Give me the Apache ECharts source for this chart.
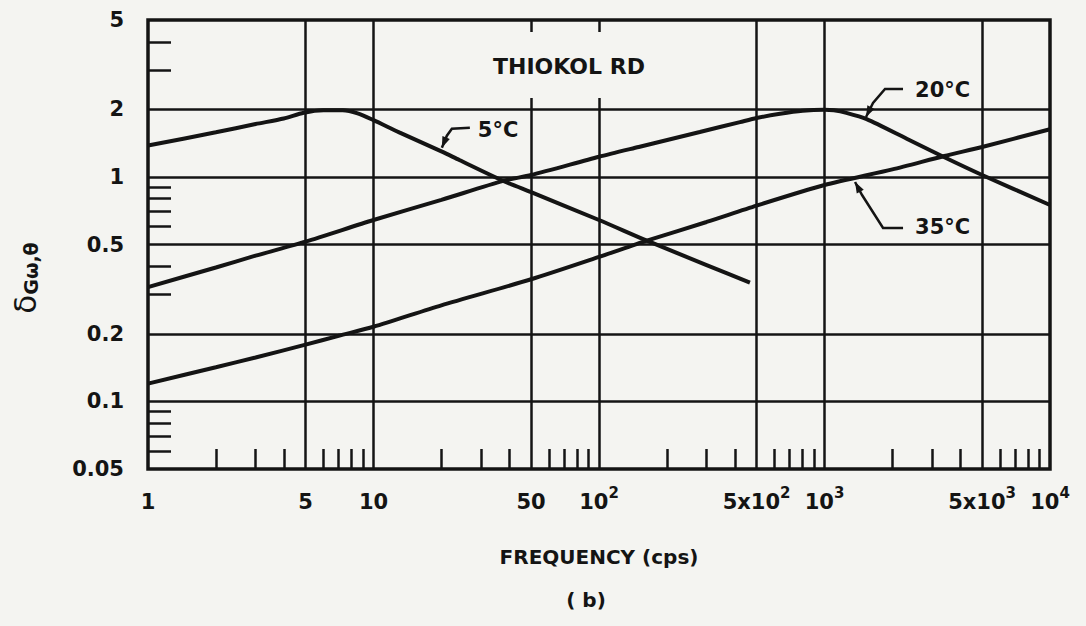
<!DOCTYPE html>
<html><head><meta charset="utf-8">
<script src="https://cdn.jsdelivr.net/npm/echarts@6/dist/echarts.min.js"></script>
<style>html,body{margin:0;padding:0;background:#f4f4f1}#c{width:1086px;height:626px}</style>
</head><body><div id="c"></div>
<script>
// ---- data ----
const freq5 = [1, 2, 3, 4, 4.9, 6, 7.3, 8.5, 10, 13, 20, 24, 37.6, 50, 100, 163, 300, 467];
const val5  = [1.38, 1.58, 1.72, 1.82, 1.93, 1.98, 1.98, 1.92, 1.79, 1.58, 1.30, 1.19, 0.96, 0.855, 0.643, 0.52, 0.405, 0.338];
const freq20 = [1, 2, 3, 5, 10, 20, 37.6, 50, 100, 150, 280, 422, 500, 635, 800, 1000, 1100, 1250, 1538, 2315, 3365, 5000, 10000];
const val20  = [0.323, 0.395, 0.446, 0.515, 0.643, 0.79, 0.96, 1.02, 1.23, 1.36, 1.585, 1.755, 1.83, 1.91, 1.97, 1.99, 1.98, 1.93, 1.81, 1.48, 1.23, 1.02, 0.75];
const freq35 = [1, 2, 3, 5, 7, 10, 20, 50, 100, 163, 300, 500, 1000, 2000, 3400, 5000, 10000];
const val35  = [0.12, 0.142, 0.157, 0.179, 0.196, 0.215, 0.268, 0.35, 0.44, 0.52, 0.63, 0.745, 0.92, 1.08, 1.24, 1.36, 1.63];

const xTickValues = [1, 5, 10, 50, 100, 500, 1000, 5000, 10000];
const xTickLabels = ['1', '5', '10', '50', '10^2', '5x10^2', '10^3', '5x10^3', '10^4'];
const xGridValues = [5, 10, 50, 100, 500, 1000, 5000];
const xMinorValues = [2,3,4,6,7,8,9,20,30,40,60,70,80,90,200,300,400,600,700,800,900,2000,3000,4000,6000,7000,8000,9000];
const yTickValues = [0.05, 0.1, 0.2, 0.5, 1, 2, 5];
const yTickLabels = ['0.05', '0.1', '0.2', '0.5', '1', '2', '5'];
const yGridValues = [0.1, 0.2, 0.5, 1, 2];
const yMinorValues = [0.06, 0.07, 0.08, 0.09, 0.3, 0.4, 0.6, 0.7, 0.8, 0.9, 3, 4];

const annoLabels = ['5°C', '20°C', '35°C'];
const annoFreq = [20.1, 1528, 1366];
const annoValue = [1.35, 1.85, 0.949];

// ---- styling ----
const INK = '#141414';
const BG = '#f4f4f1';
const FONT = '"DejaVu Sans", sans-serif';
const annoPaths = [
  [[0,0],[5,-12],[10,-19],[28,-20]],
  [[0,0],[7,-14],[19,-28],[37,-28]],
  [[0,0],[7,13],[28,46],[48,46]]
];
const annoTextOffset = [[36,-18],[49,-27],[60,45]];

function findIdx(vals, v) {
  for (let i = 0; i < vals.length; i++) if (Math.abs(vals[i] - v) / vals[i] < 1e-6) return i;
  return -1;
}
function xFmt(v) {
  const i = findIdx(xTickValues, v);
  if (i < 0) return '';
  const s = xTickLabels[i];
  const k = s.indexOf('^');
  if (k < 0) return '{b|' + s + '}';
  return '{b|' + s.slice(0, k) + '}{p|' + s.slice(k + 1) + '}';
}
function yFmt(v) {
  const i = findIdx(yTickValues, v);
  return i < 0 ? '' : yTickLabels[i];
}
const pairs = (xs, ys) => xs.map((x, i) => [x, ys[i]]);

const chart = echarts.init(document.getElementById('c'), null, {renderer: 'svg'});
const lineStyle = {color: INK, width: 4};
chart.setOption({
  backgroundColor: BG,
  animation: false,
  title: {
    text: 'THIOKOL RD', left: 481, top: 32, padding: [23, 12, 21, 12],
    backgroundColor: BG,
    textStyle: {fontFamily: FONT, fontWeight: 'bold', fontSize: 22, color: INK}
  },
  grid: {left: 148, top: 20, right: 36, bottom: 157, show: true, borderColor: INK, borderWidth: 3.5,
         backgroundColor: 'transparent', outerBoundsMode: 'none', containLabel: false},
  xAxis: [
    {
      type: 'log', logBase: 10, min: 1, max: 10000, position: 'bottom',
      axisLine: {show: false},
      axisTick: {show: false, customValues: xGridValues},
      splitLine: {show: true, lineStyle: {color: INK, width: 2.5}},
      axisLabel: {
        customValues: xTickValues, margin: 16, formatter: xFmt, color: INK,
        rich: {
          b: {fontFamily: FONT, fontWeight: 'bold', fontSize: 21, color: INK, lineHeight: 27, verticalAlign: 'bottom'},
          p: {fontFamily: FONT, fontWeight: 'bold', fontSize: 15, color: INK, lineHeight: 15, verticalAlign: 'top'}
        }
      },
      name: 'FREQUENCY (cps)', nameLocation: 'middle', nameGap: 78,
      nameTextStyle: {fontFamily: FONT, fontWeight: 'bold', fontSize: 20, color: INK}
    },
    {
      type: 'log', logBase: 10, min: 1, max: 10000, position: 'bottom',
      axisLine: {show: false},
      axisTick: {show: true, inside: true, length: 20, customValues: xMinorValues, lineStyle: {color: INK, width: 2.5}},
      splitLine: {show: false},
      axisLabel: {show: false}
    }
  ],
  yAxis: [
    {
      type: 'log', logBase: 10, min: 0.05, max: 5, position: 'left',
      axisLine: {show: false},
      axisTick: {show: false, customValues: yGridValues},
      splitLine: {show: true, lineStyle: {color: INK, width: 2.5}},
      axisLabel: {customValues: yTickValues, margin: 24, formatter: yFmt, color: INK,
                  fontFamily: FONT, fontWeight: 'bold', fontSize: 21}
    },
    {
      type: 'log', logBase: 10, min: 0.05, max: 5, position: 'left',
      axisLine: {show: false},
      axisTick: {show: true, inside: true, length: 23, customValues: yMinorValues, lineStyle: {color: INK, width: 2.5}},
      splitLine: {show: false},
      axisLabel: {show: false}
    }
  ],
  graphic: [
    {
      type: 'text', x: 24, y: 278, rotation: Math.PI / 2, z: 10,
      style: {
        text: '{d|δ}{s|Gω,θ}', align: 'center', verticalAlign: 'middle',
        rich: {
          d: {fontFamily: FONT, fontSize: 31, fill: INK, color: INK, verticalAlign: 'bottom', lineHeight: 32},
          s: {fontFamily: FONT, fontSize: 19, fontWeight: 'bold', fill: INK, color: INK, verticalAlign: 'bottom', lineHeight: 19}
        }
      }
    },
    {
      type: 'text', x: 586, y: 600, z: 10,
      style: {text: '( b)', align: 'center', verticalAlign: 'middle', font: 'bold 20px ' + FONT, fill: INK}
    }
  ],
  series: [
    {type: 'line', name: '5°C', data: pairs(freq5, val5), showSymbol: false, smooth: 0.25, lineStyle: lineStyle, z: 3},
    {type: 'line', name: '20°C', data: pairs(freq20, val20), showSymbol: false, smooth: 0.25, lineStyle: lineStyle, z: 3},
    {type: 'line', name: '35°C', data: pairs(freq35, val35), showSymbol: false, smooth: 0.25, lineStyle: lineStyle, z: 3},
    {
      type: 'custom', coordinateSystem: 'cartesian2d', clip: false, z: 4,
      data: pairs(annoFreq, annoValue),
      renderItem: function (params, api) {
        const i = params.dataIndex;
        const p = api.coord([api.value(0), api.value(1)]);
        const path = annoPaths[i].map(o => [p[0] + o[0], p[1] + o[1]]);
        const dx = path[0][0] - path[1][0], dy = path[0][1] - path[1][1];
        const len = Math.sqrt(dx * dx + dy * dy) || 1;
        const ux = dx / len, uy = dy / len;
        const tip = path[0];
        const base = [tip[0] - ux * 11, tip[1] - uy * 11];
        const px = -uy * 4, py = ux * 4;
        const t = annoTextOffset[i];
        return {
          type: 'group',
          children: [
            {type: 'polyline', shape: {points: path}, style: {stroke: INK, lineWidth: 2.5, fill: null}},
            {type: 'polygon', shape: {points: [tip, [base[0] + px, base[1] + py], [base[0] - px, base[1] - py]]}, style: {fill: INK}},
            {type: 'text', style: {text: annoLabels[i], x: p[0] + t[0], y: p[1] + t[1], fill: INK,
                                   font: 'bold 21px ' + FONT, align: 'left', verticalAlign: 'middle'}}
          ]
        };
      }
    }
  ]
});
</script>
</body></html>
